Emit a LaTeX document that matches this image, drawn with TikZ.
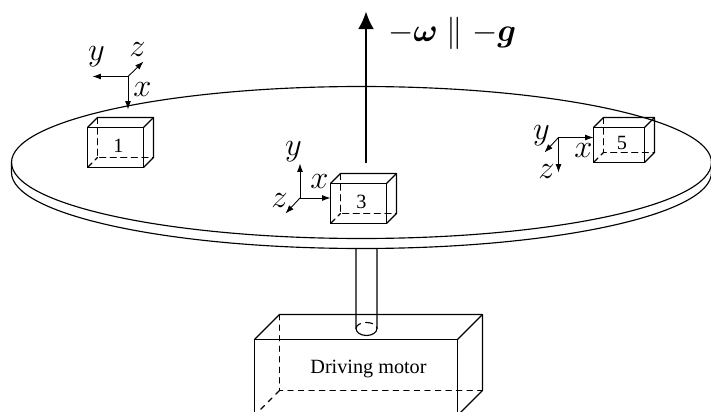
\documentclass[tikz,border=0pt]{standalone}
\usepackage{amsmath}
\usepackage{fontspec}
\setmainfont{Liberation Serif}
\usetikzlibrary{arrows.meta}
\tikzset{
  axis/.style={-{Latex[length=4.8pt,width=3.4pt]}, line width=0.5pt},
  axislabel/.style={font=\LARGE, inner sep=0pt, scale=1.07},
  boxlabel/.style={font=\fontsize{11.5}{14}\selectfont, inner sep=0pt},
}
\begin{document}
\begin{tikzpicture}[x=0.02cm, y=-0.02cm, line width=0.65pt, line cap=round, line join=round]
  \clip (-0.5,-0.5) rectangle (710.5,411.5);
  % the disc and its rim
  \draw (361,162) circle[x radius=350, y radius=76];
  \draw (11,162) -- (11,172) arc[start angle=180, end angle=0, x radius=350, y radius=76] -- (711,162);
  % the shaft, ending inside the motor
  \draw (355.5,248) -- (355.5,328) arc[start angle=180, end angle=0, x radius=10.5, y radius=7] -- (376.5,248);
  \draw[dash pattern=on 4pt off 3pt] (355.5,328) arc[start angle=180, end angle=360, x radius=10.5, y radius=6];
  % the motor, cut off by the lower margin
  \draw (254,415) -- (254,339) -- (457,339) -- (457,415);
  \draw (254,339) -- (279,314) -- (482,314) -- (482,390) -- (457,415);
  \draw (457,339) -- (482,314);
  \draw[dashed] (279,314) -- (279,390) -- (482,390);
  \draw[dashed] (279,390) -- (254,415);
  \node[font=\fontsize{11.5}{14}\selectfont] (motor) at (368,368) {Driving motor};
  % the three boxes on the disc
  \foreach \x/\y/\w/\h/\n in {87/127/56/40/1, 330/183/56/40/3, 593/127/51/35/5} {
    \draw (\x,\y) rectangle +(\w,\h);
    \draw (\x,\y) -- ++(10,-10) -- ++(\w,0) -- ++(0,\h) -- ++(-10,10);
    \draw (\x+\w,\y) -- ++(10,-10);
    \draw[dash pattern=on 3.5pt off 2.5pt] (\x+10,\y-10) -- ++(0,\h) -- ++(\w,0);
    \draw[dash pattern=on 3.5pt off 2.5pt] (\x,\y+\h) -- ++(10,-10);
    \node[boxlabel] (box\n) at (\x+\w/2+3,\y+\h/2-2) {\n};
  }
  % the axis of rotation
  \coordinate (axisstart) at (365.5,162);
  \coordinate (axisend) at (365.5,11);
  \draw[-{Latex[length=10pt,width=9pt]}, line width=1pt] (axisstart) -- (axisend);
  \node[axislabel, anchor=west] (omega) at (387,33) {$-\boldsymbol{\omega}\parallel-\boldsymbol{g}$};
  % the axes of the boxes
  \foreach \n/\ox/\oy/\xx/\xy/\yx/\yy/\zx/\zy/\lxx/\lxy/\lyx/\lyy/\lzx/\lzy in {
      1/127.5/76/127.5/109/92/76/143/61/142/89/96/56/137/49,
      3/299.5/197.5/330/197.5/299.5/163/285/213/319/181/293/151/279/200,
      5/558/137/593/137/544/152/558/172/583/150/541/135/546/171} {
    \coordinate (o\n) at (\ox,\oy);
    \coordinate (x\n) at (\xx,\xy);
    \coordinate (y\n) at (\yx,\yy);
    \coordinate (z\n) at (\zx,\zy);
    \draw[axis] (o\n) -- (x\n);
    \draw[axis] (o\n) -- (y\n);
    \draw[axis] (o\n) -- (z\n);
    \node[axislabel] (xlabel\n) at (\lxx,\lxy) {$x$};
    \node[axislabel] (ylabel\n) at (\lyx,\lyy) {$y$};
    \node[axislabel] (zlabel\n) at (\lzx,\lzy) {$z$};
  }
\end{tikzpicture}
\end{document}
